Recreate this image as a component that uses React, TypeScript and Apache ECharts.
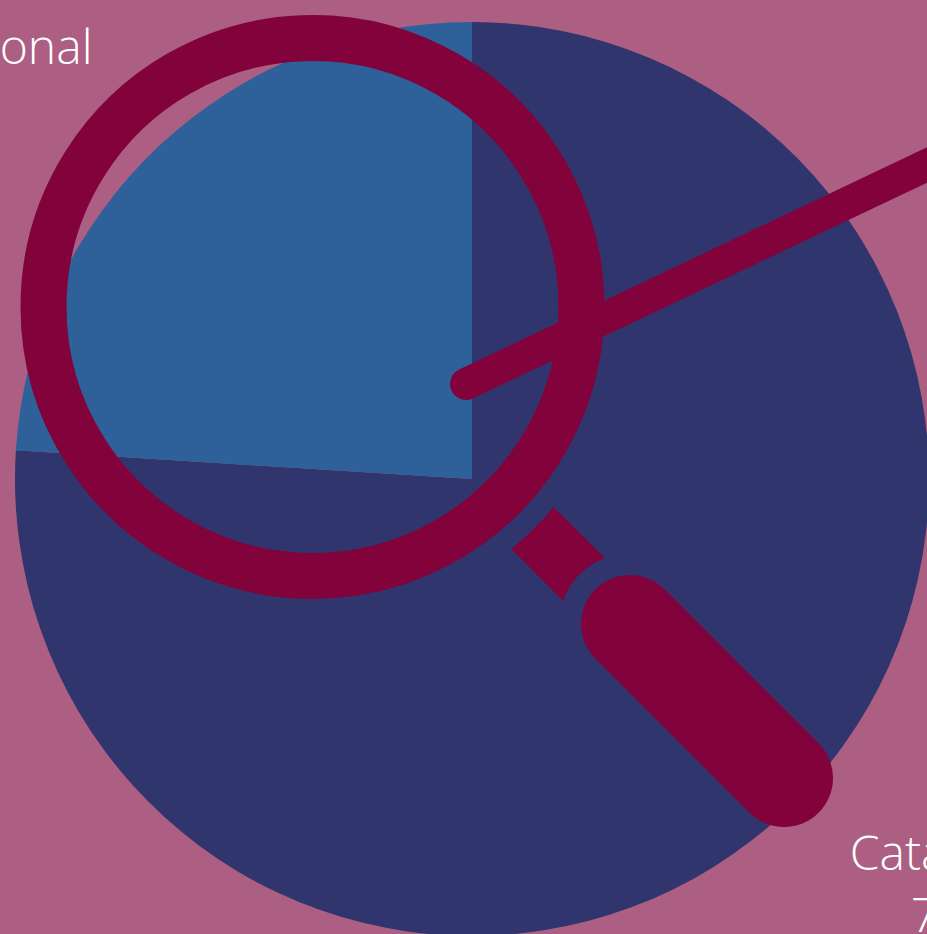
import React, { useEffect, useRef } from "react";
import * as echarts from "echarts";

const categories = ["Catalogue", "International"];
const shares = [76, 24];
const sliceColors = ["#30366D", "#2E6099"];
const labelAnchors = [
  { x: 957.5, y: 882 },
  { x: -45, y: 76 },
];

const BG = "#AC5F82";
const MAGENTA = "#82023C";
const CONNECTOR =
  "M553.5,507 L605,558 A70.7,70.7 0 0 0 563,601 L511.5,549 A313.5,313.5 0 0 0 553.5,507 Z";

let registered = false;

export default function App() {
  const ref = useRef<HTMLDivElement>(null);
  useEffect(() => {
    document.body.style.margin = "0";
    document.body.style.overflow = "hidden";
    if (!registered) {
      echarts.graphic.registerShape("lensConnector", echarts.graphic.extendPath(CONNECTOR, {}) as any);
      registered = true;
    }
    const chart = echarts.init(ref.current!, undefined, { renderer: "svg" });
    chart.setOption({
      animation: false,
      backgroundColor: BG,
      series: [
        {
          type: "pie",
          silent: true,
          center: [472, 479],
          radius: 457,
          startAngle: 90,
          clockwise: true,
          avoidLabelOverlap: false,
          data: categories.map((name, i) => ({
            name,
            value: shares[i],
            itemStyle: { color: sliceColors[i] },
          })),
          label: {
            show: true,
            position: "outside",
            formatter: "{b}\n{d}%",
            color: "#fff",
            fontFamily: "Open Sans",
            fontWeight: 300,
            fontSize: 48,
            lineHeight: 62,
            align: "center",
            overflow: "none",
          },
          labelLine: { show: false },
          labelLayout: (params: any) => ({
            x: labelAnchors[params.dataIndex].x,
            y: labelAnchors[params.dataIndex].y,
            align: "center",
            verticalAlign: "middle",
            hideOverlap: false,
          }),
        },
      ],
      graphic: {
        elements: [
          {
            type: "line",
            z: 10,
            silent: true,
            shape: { x1: 466, y1: 384, x2: 1016, y2: 122.7 },
            style: { stroke: MAGENTA, lineWidth: 32, lineCap: "round" },
          },
          {
            type: "circle",
            z: 11,
            silent: true,
            shape: { cx: 312.5, cy: 307, r: 269 },
            style: { fill: "none", stroke: MAGENTA, lineWidth: 46 },
          },
          {
            type: "lensConnector",
            z: 11,
            silent: true,
            style: { fill: MAGENTA },
          },
          {
            type: "line",
            z: 11,
            silent: true,
            shape: { x1: 630, y1: 624, x2: 784, y2: 778 },
            style: { stroke: MAGENTA, lineWidth: 98, lineCap: "round" },
          },
        ],
      },
    });
    return () => chart.dispose();
  }, []);
  return <div ref={ref} style={{ width: 927, height: 934, overflow: "hidden" }} />;
}
